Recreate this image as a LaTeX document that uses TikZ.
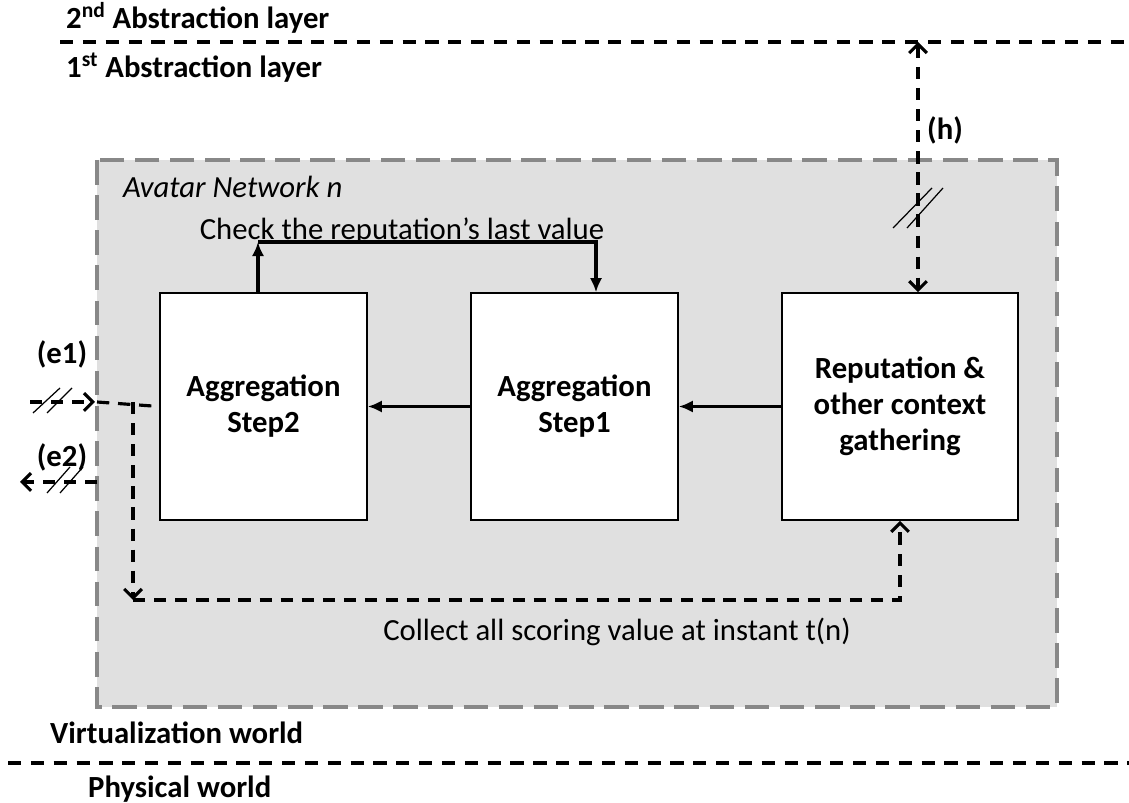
\documentclass[tikz,border=0pt]{standalone}
\usepackage{fontspec}
\setmainfont{Carlito}
\usetikzlibrary{arrows.meta}

\begin{document}
\begin{tikzpicture}[x=0.02cm, y=-0.02cm, font=\fontsize{17.5}{20.5}\selectfont]
\definecolor{avatargray}{RGB}{224,224,224}
\definecolor{bordergray}{RGB}{136,136,136}
\tikzset{
  stepbox/.style={draw, line width=0.9pt, fill=white, minimum width=4.14cm, minimum height=4.54cm, align=center, font=\fontsize{17.5}{20.5}\selectfont\bfseries},
  solid flow/.style={-{Latex[length=8pt, width=7pt]}, line width=1.8pt},
  dashed line/.style={line width=1.8pt, dash pattern=on 7pt off 5pt},
  dashed flow/.style={dashed line, -{Straight Barb[length=5pt, width=10pt]}},
  layer line/.style={line width=1.9pt, dash pattern=on 7.5pt off 5.5pt},
  slash mark/.style={line width=0.7pt},
  layer label/.style={anchor=west, font=\fontsize{17.5}{20.5}\selectfont\bfseries}
}
\useasboundingbox (0,0) rectangle (1129,803);
% Abstraction layers
\draw[layer line] (60,42) -- (1129,42);
\node[layer label] (abs2) at (60,18) {2\textsuperscript{nd} Abstraction layer};
\node[layer label] (abs1) at (60,68) {1\textsuperscript{st} Abstraction layer};
% Avatar network
\draw[bordergray, fill=avatargray, line width=2.4pt, dash pattern=on 14pt off 6pt] (97,160) rectangle (1057,707);
\node[anchor=west, font=\fontsize{17.5}{20.5}\selectfont\itshape] (avnet) at (117,187) {Avatar Network n};
\node[stepbox] (step2) at (263.5,406.5) {Aggregation\\Step2};
\node[stepbox] (step1) at (574.5,406.5) {Aggregation\\Step1};
\node[stepbox, minimum width=4.72cm] (rep) at (900,406.5) {Reputation \&\\other context\\gathering};
\draw[solid flow] (rep) -- (step1);
\draw[solid flow] (step1) -- (step2);
% Check loop
\coordinate (chkL) at (258,242);
\coordinate (chkR) at (596,242);
\draw[solid flow] (step2.north -| chkL) -- (chkL);
\draw[solid flow] (chkL) -- (chkR) -- (step1.north -| chkR);
\node[anchor=base] (chk) at (402,240) {Check the reputation’s last value};
% Inputs / outputs
\coordinate (e1in) at (30,402);
\coordinate (e1tip) at (95,402);
\coordinate (e1edge) at (97,402);
\coordinate (e1fork) at (133,402);
\coordinate (collect) at (133,600);
\coordinate (e2edge) at (97,482);
\coordinate (e2out) at (20,482);
\draw[dashed flow] (e1in) -- (e1tip);
\draw[dashed line] (e1edge) -- (step2.west);
\draw[dashed flow] (e1fork) -- (collect);
\draw[dashed flow] (collect) -| (rep.south);
\draw[dashed flow] (e2edge) -- (e2out);
\node[font=\fontsize{17.5}{20.5}\selectfont\bfseries] (e1) at (62,354) {(e1)};
\node[font=\fontsize{17.5}{20.5}\selectfont\bfseries] (e2) at (62,457) {(e2)};
\node (coll) at (617,632) {Collect all scoring value at instant t(n)};
\draw[slash mark] (33,413) -- (60,388) (47,413) -- (72,388);
\draw[slash mark] (47,493) -- (70,467) (60,493) -- (83,467);
% Link to upper layer
\coordinate (htop) at (918,42);
\draw[dashed line, {Straight Barb[length=5pt, width=10pt]}-{Straight Barb[length=5pt, width=10pt]}] (htop) -- (rep.north -| htop);
\node[font=\fontsize{17.5}{20.5}\selectfont\bfseries] (h) at (945,130) {(h)};
\draw[slash mark] (893,228) -- (932,188) (907,228) -- (943,188);
% Worlds
\node[layer label] (virt) at (44,733) {Virtualization world};
\draw[layer line] (8,763) -- (1129,763);
\node[layer label] (phys) at (82,789) {Physical world};
\end{tikzpicture}
\end{document}
